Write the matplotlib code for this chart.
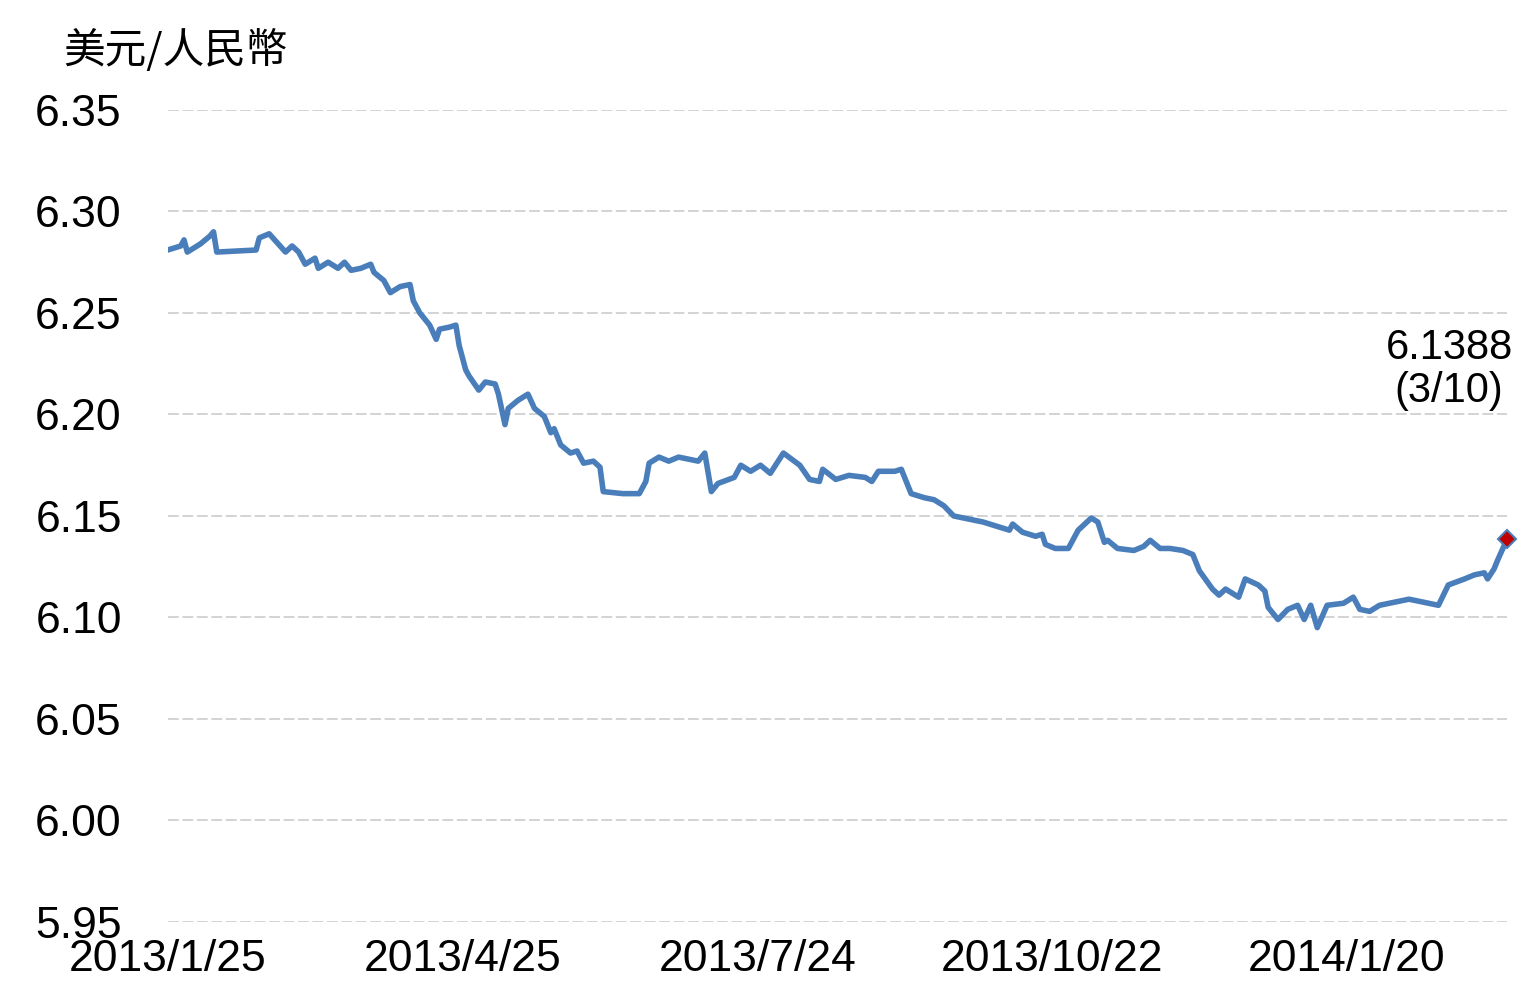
import matplotlib
matplotlib.use('Agg')
import matplotlib.pyplot as plt

# days since 2013/1/25 and USD/CNY rate
days = [0, 4, 5, 6, 10, 13, 14, 15, 27, 28, 31, 36, 38, 40, 42, 45, 46, 49, 52, 54,
        56, 59, 62, 63, 66, 68, 71, 74, 75, 77, 80, 82, 83, 86, 88, 89, 91, 92, 95, 97,
        100, 101, 103, 104, 107, 110, 112, 115, 117, 118, 120, 123, 125, 127, 130, 132, 133, 139, 144, 146,
        147, 150, 153, 156, 159, 162, 164, 166, 168, 173, 175, 178, 181, 184, 188, 193, 196, 199, 200, 204,
        208, 213, 215, 217, 222, 224, 227, 231, 234, 237, 240, 243, 249, 257, 258, 261, 265, 267, 268, 271,
        275, 278, 282, 284, 286, 287, 290, 295, 298, 300, 303, 306, 310, 313, 315, 319, 321, 323, 327, 329,
        333, 335, 336, 339, 342, 345, 347, 349, 351, 354, 359, 362, 364, 367, 370, 379, 382, 385, 388, 391,
        396, 399, 402, 403, 405, 406, 409]
rate = [6.281, 6.283, 6.286, 6.280, 6.284, 6.288, 6.290, 6.280, 6.281, 6.287, 6.289, 6.280, 6.283, 6.280, 6.274, 6.277, 6.272, 6.275, 6.272, 6.275,
        6.271, 6.272, 6.274, 6.270, 6.266, 6.260, 6.263, 6.264, 6.256, 6.250, 6.244, 6.237, 6.242, 6.243, 6.244, 6.234, 6.222, 6.219, 6.212, 6.216,
        6.215, 6.210, 6.195, 6.203, 6.207, 6.210, 6.203, 6.199, 6.191, 6.193, 6.185, 6.181, 6.182, 6.176, 6.177, 6.174, 6.162, 6.161, 6.161, 6.167,
        6.176, 6.179, 6.177, 6.179, 6.178, 6.177, 6.181, 6.162, 6.166, 6.169, 6.175, 6.172, 6.175, 6.171, 6.181, 6.175, 6.168, 6.167, 6.173, 6.168,
        6.170, 6.169, 6.167, 6.172, 6.172, 6.173, 6.161, 6.159, 6.158, 6.155, 6.150, 6.149, 6.147, 6.143, 6.146, 6.142, 6.140, 6.141, 6.136, 6.134,
        6.134, 6.143, 6.149, 6.147, 6.137, 6.138, 6.134, 6.133, 6.135, 6.138, 6.134, 6.134, 6.133, 6.131, 6.123, 6.114, 6.111, 6.114, 6.110, 6.119,
        6.116, 6.113, 6.105, 6.099, 6.104, 6.106, 6.099, 6.106, 6.095, 6.106, 6.107, 6.110, 6.104, 6.103, 6.106, 6.109, 6.108, 6.107, 6.106, 6.116,
        6.119, 6.121, 6.122, 6.119, 6.124, 6.128, 6.1388]
tick_days = [0, 90, 180, 270, 360]
tick_labels = ['2013/1/25', '2013/4/25', '2013/7/24', '2013/10/22', '2014/1/20']
y_ticks = [5.95, 6.00, 6.05, 6.10, 6.15, 6.20, 6.25, 6.30, 6.35]

plt.rcParams['font.family'] = ['Liberation Sans', 'Noto Sans CJK TC', 'DejaVu Sans']

fig = plt.figure(figsize=(15.38, 10.05), dpi=100)
ax = fig.add_axes([0.109, 0.0826, 0.871, 0.808])

ax.plot(days, rate, color='#4a7ebb', linewidth=4, solid_joinstyle='round', zorder=3)
ax.plot(days[-1], rate[-1], marker='D', markersize=9, color='#c00000', clip_on=False,
        markeredgecolor='#4a7ebb', markeredgewidth=1.5, zorder=4)
ax.annotate('6.1388\n(3/10)', xy=(days[-1], rate[-1]), xytext=(4, 92),
            textcoords='offset points', ha='right', va='bottom',
            fontsize=30, linespacing=1.1, multialignment='center')

ax.set_xlim(0, 409)
ax.set_ylim(5.95, 6.35)
ax.set_yticks(y_ticks)
ax.set_yticklabels(['%.2f' % v for v in y_ticks], fontsize=32)
ax.set_xticks(tick_days)
ax.set_xticklabels(tick_labels, fontsize=32)
ax.tick_params(length=0)
ax.tick_params(axis='y', pad=33)
ax.tick_params(axis='x', pad=12)
ax.grid(axis='y', color='#d0d0d0', linestyle=(0, (6, 2)), linewidth=1.3, zorder=0)
for s in ax.spines.values():
    s.set_visible(False)

fig.text(0.041, 0.95, '美元/人民幣', fontsize=30, family=['Noto Sans CJK TC', 'DejaVu Sans'],
         va='center', ha='left')

fig.savefig('out.png', dpi=100)
